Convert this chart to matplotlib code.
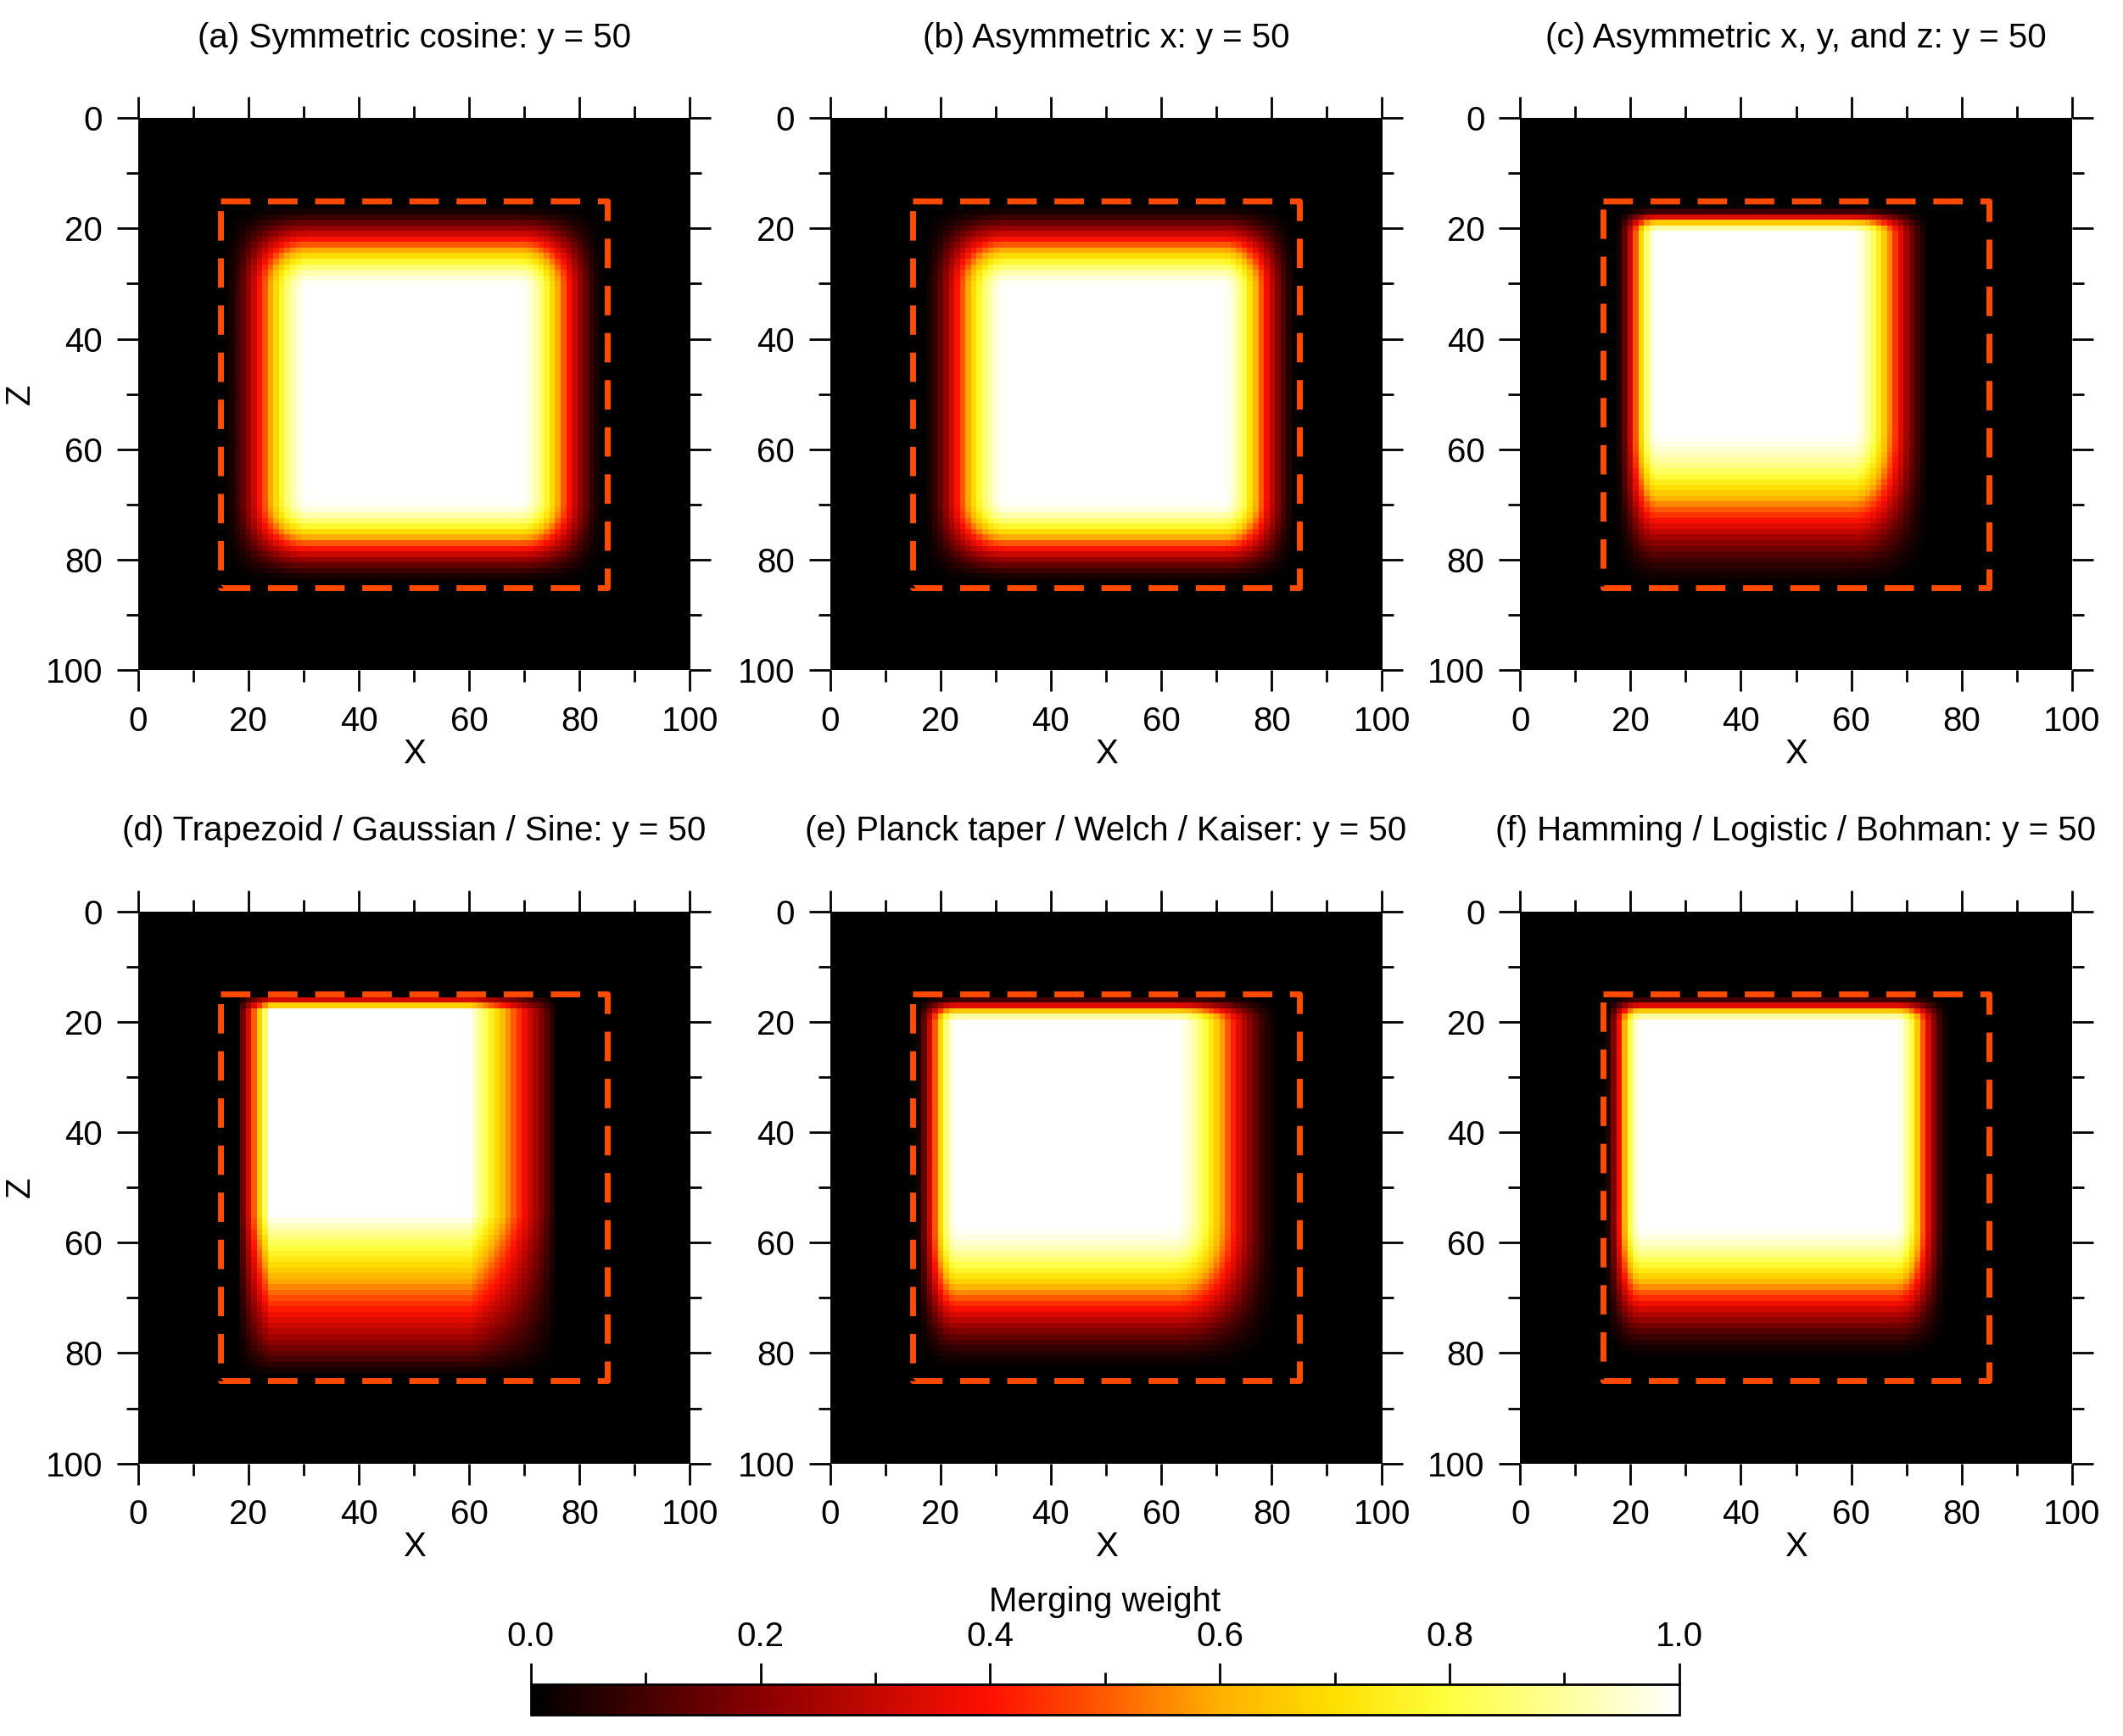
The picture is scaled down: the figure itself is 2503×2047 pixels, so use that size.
import numpy as np
import matplotlib.pyplot as plt
from matplotlib.colors import LinearSegmentedColormap
from matplotlib.ticker import MultipleLocator

plt.rcParams['font.family'] = ['Liberation Sans', 'DejaVu Sans']

titles = ['(a) Symmetric cosine: y = 50',
          '(b) Asymmetric x: y = 50',
          '(c) Asymmetric x, y, and z: y = 50',
          '(d) Trapezoid / Gaussian / Sine: y = 50',
          '(e) Planck taper / Welch / Kaiser: y = 50',
          '(f) Hamming / Logistic / Bohman: y = 50']

# taper edges per panel: [rise start, rise end, fall start, fall end]
x_edges = [[15, 31, 69, 85], [16, 32, 71, 85], [17, 25, 60, 75],
           [18, 24, 60, 76], [15, 23, 62, 82], [15, 22, 68, 78]]
z_edges = [[15, 31, 69, 85], [15, 31, 69, 85], [16, 21, 56, 86],
           [15, 18, 55, 84], [15, 20, 56, 84], [15, 20, 56, 82]]
shapes = ['cos', 'cos', 'cos', 'lin', 'cos', 'cos']

box = [15, 85]
cb_ticks = [0.0, 0.2, 0.4, 0.6, 0.8, 1.0]

cmap = LinearSegmentedColormap.from_list('hotish', [
    (0.0, '#000000'), (0.2, '#8a0000'), (0.4, '#ff1000'),
    (0.5, '#ff5a00'), (0.6, '#ffb000'), (0.7, '#ffe000'),
    (0.8, '#ffff40'), (0.9, '#ffff9c'), (1.0, '#ffffff')])

coords = np.arange(0, 101)


def taper(c, e, shape):
    up = np.clip((c - e[0]) / (e[1] - e[0]), 0, 1)
    dn = np.clip((e[3] - c) / (e[3] - e[2]), 0, 1)
    if shape == 'cos':
        up = 0.5 - 0.5 * np.cos(np.pi * up)
        dn = 0.5 - 0.5 * np.cos(np.pi * dn)
    return up * dn


fig = plt.figure(figsize=(25.03, 20.47), dpi=100)
lefts = [0.065, 0.391, 0.716]
bottoms = [0.614, 0.157]
w, h = 0.26, 0.318
fs = 29

for i in range(6):
    ax = fig.add_axes([lefts[i % 3], bottoms[i // 3], w, h])
    wx = taper(coords, x_edges[i], shapes[i])
    wz = taper(coords, z_edges[i], shapes[i])
    field = np.outer(wz, wx)
    im = ax.imshow(field, cmap=cmap, vmin=0, vmax=1, origin='upper',
                   extent=[-0.5, 100.5, 100.5, -0.5], interpolation='nearest')
    ax.plot([box[0], box[1], box[1], box[0], box[0]],
            [box[0], box[0], box[1], box[1], box[0]],
            color='#ff4a00', lw=5, dashes=(5, 3))
    ax.set_xlim(0, 100)
    ax.set_ylim(100, 0)
    ax.set_aspect('auto')
    ax.xaxis.set_major_locator(MultipleLocator(20))
    ax.xaxis.set_minor_locator(MultipleLocator(10))
    ax.yaxis.set_major_locator(MultipleLocator(20))
    ax.yaxis.set_minor_locator(MultipleLocator(10))
    ax.tick_params(which='both', direction='out', top=True, right=True,
                   labelsize=fs, width=2, pad=12)
    ax.tick_params(which='major', length=18)
    ax.tick_params(which='minor', length=10)
    for s in ax.spines.values():
        s.set_visible(False)
    ax.set_title(titles[i], fontsize=fs, pad=60)
    ax.set_xlabel('X', fontsize=fs, labelpad=0)
    if i % 3 == 0:
        ax.set_ylabel('Z', fontsize=fs, labelpad=8)

cax = fig.add_axes([0.25, 0.012, 0.541, 0.018])
cb = fig.colorbar(im, cax=cax, orientation='horizontal', ticks=cb_ticks)
cb.ax.xaxis.set_ticks_position('top')
cb.ax.xaxis.set_label_position('top')
cb.ax.xaxis.set_minor_locator(MultipleLocator(0.1))
cb.ax.tick_params(which='both', labelsize=fs, width=2, direction='out', pad=8)
cb.ax.tick_params(which='major', length=18)
cb.ax.tick_params(which='minor', length=10)
cb.set_ticklabels(['%.1f' % t for t in cb_ticks])
cb.set_label('Merging weight', fontsize=fs, labelpad=8)
cb.outline.set_linewidth(2)

fig.savefig('out.png', dpi=100)
